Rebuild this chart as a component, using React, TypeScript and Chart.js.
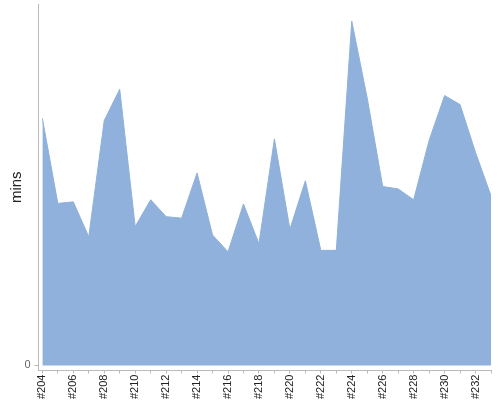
import { useEffect, useRef } from "react";
import { Chart, registerables } from "chart.js";

Chart.register(...registerables);

// builds #204 .. #233
const builds: string[] = [
  "#204", "#205", "#206", "#207", "#208", "#209", "#210", "#211", "#212", "#213",
  "#214", "#215", "#216", "#217", "#218", "#219", "#220", "#221", "#222", "#223",
  "#224", "#225", "#226", "#227", "#228", "#229", "#230", "#231", "#232", "#233",
];

// duration in minutes per build
const mins: number[] = [
  82, 53.8, 54.3, 42.7, 81.3, 91.7, 46.1, 55, 49.4, 48.9,
  63.9, 43.3, 37.7, 53.6, 40.4, 75.2, 45.2, 61.3, 38.2, 38.2,
  114.3, 88.7, 59.4, 58.6, 55, 74.7, 89.6, 86.6, 70.7, 56.3,
];

const yTicks: number[] = [0];

const font = "'Liberation Sans', Arial, sans-serif";

export default function App() {
  const canvasRef = useRef<HTMLCanvasElement | null>(null);

  useEffect(() => {
    const ctx = canvasRef.current!.getContext("2d")!;
    const chart = new Chart(ctx, {
      type: "line",
      data: {
        datasets: [
          {
            label: "mins",
            data: mins.map((v, i) => ({ x: i, y: v })),
            fill: "origin",
            backgroundColor: "#8fb1db",
            borderColor: "#8fb1db",
            borderWidth: 1,
            pointRadius: 0,
            tension: 0,
          },
        ],
      },
      options: {
        animation: false,
        responsive: true,
        maintainAspectRatio: false,
        layout: { padding: { top: 4, right: 9, bottom: 0, left: 0 } },
        plugins: {
          legend: { display: false },
          tooltip: { enabled: false },
        },
        scales: {
          x: {
            type: "linear",
            min: -0.25,
            max: 29,
            afterBuildTicks: (scale: any) => {
              scale.ticks = builds.map((_, i) => ({ value: i }));
            },
            afterFit: (scale: any) => {
              scale.paddingLeft = 0;
              scale.paddingRight = 0;
            },
            ticks: {
              autoSkip: false,
              minRotation: 90,
              maxRotation: 90,
              padding: 1,
              color: "#222",
              font: { family: font, size: 11 },
              callback: (v: any) => (Number(v) % 2 === 0 ? builds[Number(v)] : ""),
            },
            grid: {
              drawOnChartArea: false,
              drawTicks: true,
              tickLength: 3,
              color: "#bbb",
            },
            border: { color: "#bbb" },
          },
          y: {
            min: -1.7,
            max: 120,
            afterBuildTicks: (scale: any) => {
              scale.ticks = yTicks.map((v) => ({ value: v }));
            },
            afterFit: (scale: any) => {
              scale.paddingTop = 0;
              scale.paddingBottom = 0;
              scale.width = 38.5;
            },
            ticks: {
              padding: 4,
              color: "#666",
              font: { family: font, size: 11 },
            },
            grid: {
              drawOnChartArea: false,
              drawTicks: true,
              tickLength: 4,
              color: "#bbb",
            },
            border: { color: "#bbb" },
            title: {
              display: true,
              text: "mins",
              color: "#222",
              padding: { top: 8, bottom: 0 },
              font: { family: font, size: 15 },
            },
          },
        },
      },
    });
    return () => {
      chart.destroy();
    };
  }, []);

  return (
    <div style={{ position: "fixed", left: 0, top: 0, width: 500, height: 400, background: "#fff" }}>
      <canvas ref={canvasRef}></canvas>
    </div>
  );
}
